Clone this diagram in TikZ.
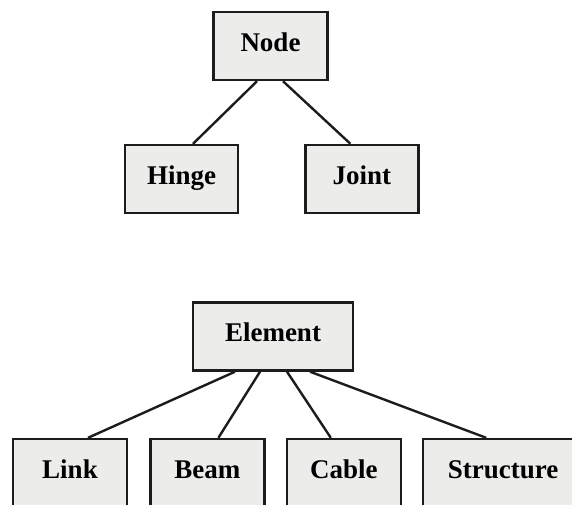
\documentclass[tikz,border=0pt]{standalone}
\usepackage{fontspec}
\setmainfont{Liberation Serif}
\usetikzlibrary{positioning}
\definecolor{boxfill}{RGB}{236,236,234}
\definecolor{boxline}{RGB}{28,28,28}
\begin{document}
\begin{tikzpicture}[x=1pt,y=-1pt]

        \tikzstyle{part} = [rectangle, fill=boxfill, draw=boxline, line width=2.4pt,
            minimum width=114pt, minimum height=68pt, inner sep=0pt,
            text height=18pt, text depth=8pt,
            font=\bfseries\fontsize{27}{31}\selectfont]
        \tikzstyle{branch} = [draw=boxline, line width=2.4pt]

        \clip (0,0) rectangle (572,504);

        \node[part]                                      (nodeTop)   at (270.5,46)  {Node};
        \node[part, minimum width=113pt]                 (hinge)     at (181.5,179) {Hinge};
        \node[part, minimum width=113pt, right=65pt of hinge] (joint)           {Joint};
        \node[part, minimum width=160pt]                 (element)   at (273,336.5) {Element};
        \node[part]                                      (link)      at (70,473)    {Link};
        \node[part, right=21pt of link]                  (beam)                     {Beam};
        \node[part, right=20pt of beam]                  (cable)                    {Cable};
        \node[part, right=20pt of cable, minimum width=160pt] (structure)           {Structure};

        \draw[branch] ([xshift=-13.5pt]nodeTop.south) -- ([xshift=11.5pt]hinge.north);
        \draw[branch] ([xshift=12.5pt]nodeTop.south)  -- ([xshift=-11.5pt]joint.north);
        \draw[branch] ([xshift=-38pt]element.south)   -- ([xshift=18pt]link.north);
        \draw[branch] ([xshift=-13pt]element.south)   -- ([xshift=11pt]beam.north);
        \draw[branch] ([xshift=14pt]element.south)    -- ([xshift=-13pt]cable.north);
        \draw[branch] ([xshift=37pt]element.south)    -- ([xshift=-17pt]structure.north);

\end{tikzpicture}
\end{document}
